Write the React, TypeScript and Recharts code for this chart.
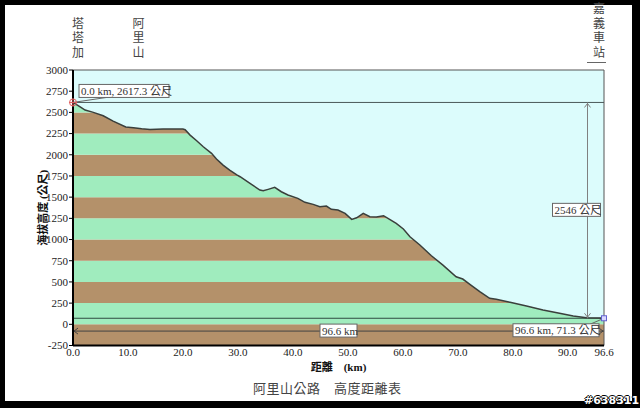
import React from 'react'
import {
  ComposedChart, Line, Area, XAxis, YAxis, ReferenceArea, ReferenceLine, ReferenceDot,
} from 'recharts'

// distance along the road (km) and elevation (m)
const distKm = [
  0, 1.3, 2.2, 3.7, 5.5, 7.3, 9.6, 11.0, 12.5, 14.0, 16.4, 20.0, 20.4, 21.3, 22.5, 23.7,
  25.2, 26.1, 27.3, 28.5, 29.8, 30.4, 32.2, 34.0, 34.6, 35.5, 36.7, 37.9, 39.1, 40.9, 42.2,
  43.7, 44.9, 46.1, 47.0, 48.2, 49.5, 50.7, 51.6, 52.8, 54.0, 55.2, 56.5, 57.6, 58.8, 60.1,
  61.3, 63.1, 65.2, 67.3, 69.7, 70.9, 72.2, 74.0, 75.8, 77.0, 79.5, 82.5, 85.5, 88.5, 91.0,
  93.4, 95.8, 96.6,
]
const elevM = [
  2617.3, 2566, 2527, 2500, 2460, 2397, 2327, 2318, 2307, 2299, 2303, 2303, 2295, 2232, 2165, 2094,
  2017, 1949, 1878, 1820, 1762, 1741, 1663, 1584, 1575, 1592, 1616, 1564, 1525, 1486, 1439,
  1415, 1387, 1395, 1356, 1348, 1309, 1238, 1257, 1309, 1269, 1265, 1281, 1238, 1191, 1124,
  1033, 935, 809, 698, 561, 534, 472, 385, 307, 295, 259, 216, 169, 130, 98,
  78, 73, 71.3,
]

// 250 m colour bands behind the profile
const bandEdges = [-250, 0, 250, 500, 750, 1000, 1250, 1500, 1750, 2000, 2250, 2500, 2750, 3000]
const yTicks = [-250, 0, 250, 500, 750, 1000, 1250, 1500, 1750, 2000, 2250, 2500, 2750, 3000]
const xTicks = [0, 10, 20, 30, 40, 50, 60, 70, 80, 90, 96.6]

const landmarkNames = ['塔塔加', '阿里山', '嘉義車站']
const landmarkKm = [0, 11, 96.6]

const Y_MIN = -250
const Y_MAX = 3000
const DIM_Y = -80     // elevation where the distance dimension is drawn
const DIM_X = 93.6    // km where the height dimension is drawn

const data = distKm.map((km, i) => ({ km, elev: elevM[i] }))
const startKm = distKm[0]
const endKm = distKm[distKm.length - 1]
const startElev = elevM[0]
const endElev = elevM[elevM.length - 1]

const SKY = '#dcfcfc'
const GREEN = '#a0ecbe'
const BROWN = '#b4916a'
const SERIF = '"Liberation Serif", "Times New Roman", "Noto Sans CJK TC", serif'
const CJK = '"Noto Sans CJK TC", "Noto Sans CJK SC", sans-serif'

function Box({ x, y, w, text }: { x: number; y: number; w: number; text: string }) {
  return (
    <g>
      <rect x={x} y={y} width={w} height={13} fill="#fff" stroke="#666" strokeWidth={1} />
      <text x={x + 2} y={y + 10.5} fontSize={11} fontFamily={SERIF} fill="#333">{text}</text>
    </g>
  )
}

// vertical place name drawn above the plot at a given km
const landmarkShape = (index: number) => (p: any) => {
  const { cx, cy } = p
  const last = index === landmarkNames.length - 1
  const tx = last ? cx - 5 : cx + 5
  return (
    <g>
      <text x={tx} y={cy - 9.5} textAnchor="end" fontSize={12} fontFamily={CJK} fill="#444"
        letterSpacing={2.5} style={{ writingMode: 'vertical-rl' }}>{landmarkNames[index]}</text>
      {last && <line x1={cx - 17} x2={cx + 2} y1={cy - 7.5} y2={cy - 7.5} stroke="#666" />}
    </g>
  )
}

const StartMarker = (p: any) => {
  const { cx, cy } = p
  return (
    <g>
      <line x1={cx} y1={cy} x2={cx + 37} y2={cy - 5.5} stroke="#666" />
      <Box x={cx + 6} y={cy - 18} w={90} text={`${startKm.toFixed(1)} km, ${startElev.toFixed(1)} 公尺`} />
      <circle cx={cx} cy={cy} r={3.5} fill="none" stroke="#e06060" />
      <line x1={cx - 4} x2={cx + 4} y1={cy} y2={cy} stroke="#e06060" />
      <line x1={cx} x2={cx} y1={cy - 4} y2={cy + 4} stroke="#e06060" />
    </g>
  )
}

const EndMarker = (p: any) => {
  const { cx, cy } = p
  return (
    <g>
      <line x1={cx} y1={cy} x2={cx - 14} y2={cy + 6} stroke="#666" />
      <Box x={cx - 91} y={cy + 5.5} w={86} text={`${endKm.toFixed(1)} km, ${endElev.toFixed(1)} 公尺`} />
      <rect x={cx - 2.5} y={cy - 2.5} width={5} height={5} fill="#d8d8ff" stroke="#6262d0" />
    </g>
  )
}

const DistDim = (p: any) => {
  const { x1, y1, x2 } = p
  const mid = (x1 + x2) / 2
  return (
    <g>
      <line x1={x1} y1={y1} x2={x2} y2={y1} stroke="#444" />
      <polyline points={`${x1 + 5},${y1 - 3} ${x1 + 1},${y1} ${x1 + 5},${y1 + 3}`} fill="none" stroke="#444" />
      <polyline points={`${x2 - 5},${y1 - 3} ${x2 - 1},${y1} ${x2 - 5},${y1 + 3}`} fill="none" stroke="#444" />
      <Box x={mid - 18.5} y={y1 - 7} w={37} text={`${(endKm - startKm).toFixed(1)} km`} />
    </g>
  )
}

const HeightDim = (p: any) => {
  const { x1, y1, y2 } = p
  const top = Math.min(y1, y2)
  const bot = Math.max(y1, y2)
  const mid = (top + bot) / 2
  return (
    <g>
      <line x1={x1} y1={top} x2={x1} y2={bot} stroke="#808080" />
      <polyline points={`${x1 - 3},${top + 5} ${x1},${top + 1} ${x1 + 3},${top + 5}`} fill="none" stroke="#808080" />
      <polyline points={`${x1 - 3},${bot - 5} ${x1},${bot - 1} ${x1 + 3},${bot - 5}`} fill="none" stroke="#808080" />
      <Box x={x1 - 35} y={mid - 7} w={48} text={`${Math.round(startElev - endElev)} 公尺`} />
    </g>
  )
}

const YTitle = (p: any) => {
  const vb = p.viewBox || { x: 13, y: 70, width: 60, height: 275 }
  const cx = vb.x + 30
  const cy = vb.y + vb.height / 2
  return (
    <text x={cx} y={cy} transform={`rotate(-90 ${cx} ${cy})`} textAnchor="middle" dominantBaseline="central"
      fontSize={11} fontWeight="bold" fontFamily={SERIF} fill="#111">海拔高度 (公尺)</text>
  )
}

const XTitle = (p: any) => {
  const vb = p.viewBox || { x: 73, y: 345, width: 531, height: 30 }
  const cx = vb.x + vb.width / 2
  return (
    <text x={cx} y={vb.y + 25} textAnchor="middle" fontSize={11} fontWeight="bold" fontFamily={SERIF} fill="#111">
      距離　(km)
    </text>
  )
}

export default function App() {
  return (
    <div style={{ position: 'fixed', left: 0, top: 0, width: 640, height: 408, background: '#000' }}>
      <div style={{ position: 'absolute', left: 5, top: 5, width: 627, height: 396, background: '#fff' }} />
      <div style={{ position: 'absolute', left: 0, top: 0 }}>
        <ComposedChart width={640} height={408} data={data}
          margin={{ top: 70, right: 36, bottom: 32.5, left: 13 }}>
          <XAxis dataKey="km" type="number" domain={[0, endKm]} ticks={xTicks} interval={0}
            tickFormatter={(v: number) => v.toFixed(1)} height={30} allowDataOverflow
            axisLine={{ stroke: '#000', strokeWidth: 2 }} tickLine={false} tickSize={2} tickMargin={1}
            tick={{ fill: '#222', fontSize: 11, fontFamily: SERIF }} label={XTitle} />
          <YAxis type="number" domain={[Y_MIN, Y_MAX]} ticks={yTicks} interval={0} width={60} allowDataOverflow
            axisLine={{ stroke: '#000', strokeWidth: 2 }} tickLine={{ stroke: '#000' }} tickSize={4} tickMargin={1}
            tick={{ fill: '#222', fontSize: 11, fontFamily: SERIF }} label={YTitle} />

          {bandEdges.slice(0, -1).map((lo, i) => (
            <ReferenceArea key={lo} y1={lo} y2={bandEdges[i + 1]} fill={i % 2 === 0 ? BROWN : GREEN}
              fillOpacity={1} stroke="none" ifOverflow="hidden" />
          ))}
          <Area dataKey={(d: any) => [d.elev, Y_MAX]} type="linear" fill={SKY} fillOpacity={1} stroke="none"
            isAnimationActive={false} activeDot={false} />
          <ReferenceLine y={Y_MAX} stroke="#555" />
          <ReferenceLine x={endKm} stroke="#555" />
          <ReferenceLine y={startElev} stroke="#4a5858" />
          <ReferenceLine y={endElev} stroke="#2f4a40" />
          <Line dataKey="elev" type="linear" stroke="#3a3f3c" strokeWidth={1.5} dot={false}
            isAnimationActive={false} activeDot={false} />
          <ReferenceLine segment={[{ x: startKm, y: DIM_Y }, { x: endKm, y: DIM_Y }]} shape={DistDim} />
          <ReferenceLine segment={[{ x: DIM_X, y: startElev }, { x: DIM_X, y: endElev }]} shape={HeightDim} />
          <ReferenceDot x={startKm} y={startElev} r={3} shape={StartMarker} />
          <ReferenceDot x={endKm} y={endElev} r={3} shape={EndMarker} />
          {landmarkKm.map((km, i) => (
            <ReferenceDot key={landmarkNames[i]} x={km} y={Y_MAX} r={1} shape={landmarkShape(i)} />
          ))}
        </ComposedChart>
      </div>
      <div style={{ position: 'absolute', left: 253, top: 378, fontSize: 13, letterSpacing: 0.5,
        fontFamily: CJK, color: '#444', whiteSpace: 'nowrap' }}>阿里山公路　高度距離表</div>
      <div style={{ position: 'absolute', left: 584, top: 395, fontSize: 11, fontWeight: 'bold',
        fontFamily: '"DejaVu Sans", sans-serif', color: '#fff', lineHeight: '12px',
        textShadow: '1px 0 #000, -1px 0 #000, 0 1px #000, 0 -1px #000' }}>#638311</div>
    </div>
  )
}
